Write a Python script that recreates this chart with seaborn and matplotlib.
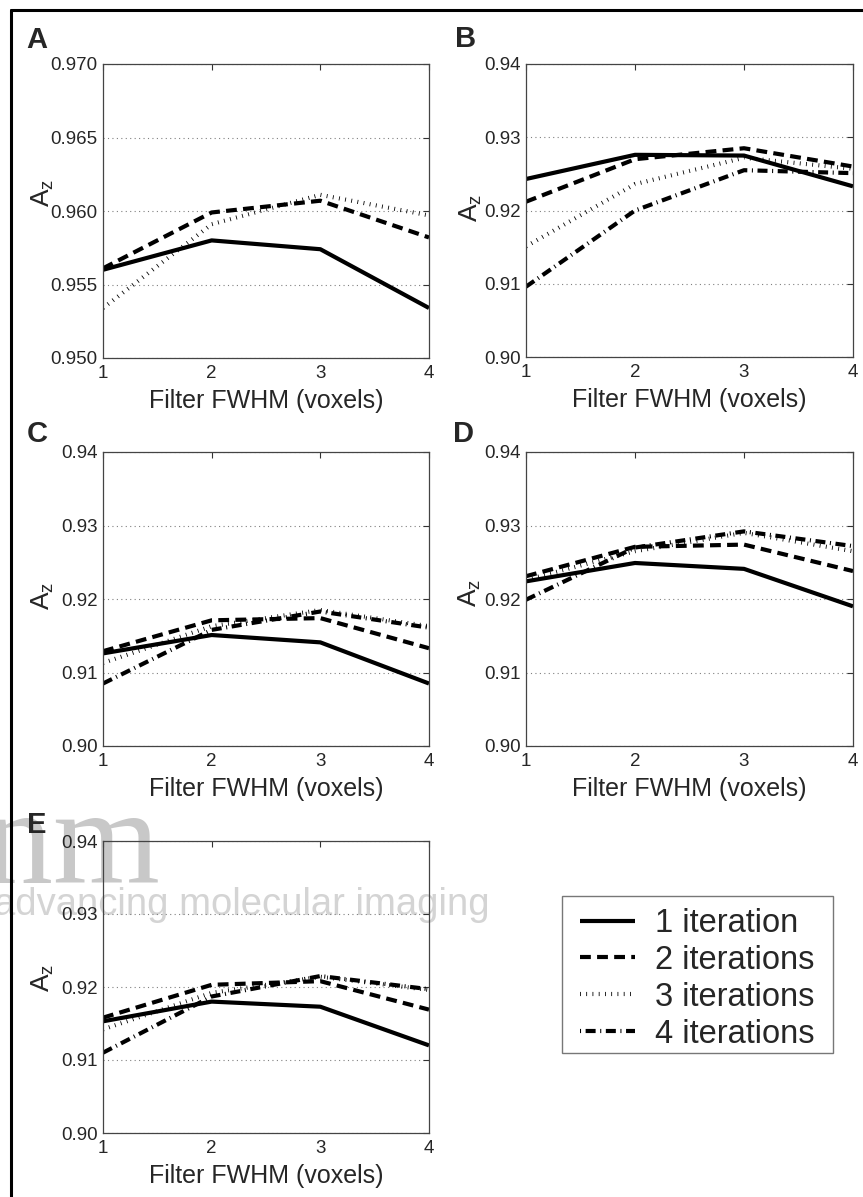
import numpy as np
import pandas as pd
import matplotlib
matplotlib.use("Agg")
import matplotlib.pyplot as plt
import seaborn as sns
from matplotlib.ticker import FormatStrFormatter, FixedLocator
from matplotlib.lines import Line2D
from matplotlib.patches import Rectangle

# ---------------- data ----------------
fwhm = [1, 2, 3, 4]
iterations = ["1 iteration", "2 iterations", "3 iterations", "4 iterations"]

A_1 = [0.9560, 0.9580, 0.9574, 0.9534]
A_2 = [0.9561, 0.9599, 0.9607, 0.9582]
A_3 = [0.9534, 0.9591, 0.9611, 0.9597]

B_1 = [0.9243, 0.9276, 0.9275, 0.9233]
B_2 = [0.9212, 0.9270, 0.9285, 0.9260]
B_3 = [0.9151, 0.9236, 0.9272, 0.9257]
B_4 = [0.9096, 0.9200, 0.9255, 0.9251]

C_1 = [0.9126, 0.9151, 0.9141, 0.9085]
C_2 = [0.9129, 0.9171, 0.9174, 0.9133]
C_3 = [0.9113, 0.9163, 0.9185, 0.9163]
C_4 = [0.9085, 0.9158, 0.9183, 0.9161]

D_1 = [0.9224, 0.9249, 0.9241, 0.9190]
D_2 = [0.9231, 0.9271, 0.9274, 0.9238]
D_3 = [0.9226, 0.9265, 0.9290, 0.9265]
D_4 = [0.9199, 0.9270, 0.9292, 0.9272]

E_1 = [0.9153, 0.9180, 0.9173, 0.9120]
E_2 = [0.9158, 0.9203, 0.9208, 0.9169]
E_3 = [0.9142, 0.9192, 0.9214, 0.9196]
E_4 = [0.9110, 0.9187, 0.9215, 0.9197]

panel_letters = ["A", "B", "C", "D", "E"]
panel_series = [
    [A_1, A_2, A_3],
    [B_1, B_2, B_3, B_4],
    [C_1, C_2, C_3, C_4],
    [D_1, D_2, D_3, D_4],
    [E_1, E_2, E_3, E_4],
]
A_yticks = [0.950, 0.955, 0.960, 0.965, 0.970]
other_yticks = [0.90, 0.91, 0.92, 0.93, 0.94]
xlabel = "Filter FWHM (voxels)"
ylabel = r"A$_{\mathrm{z}}$"
watermark_big = "jnm"
watermark_small = "advancing molecular imaging"

# ---------------- style ----------------
sns.set_style("white")
plt.rcParams["font.family"] = ["Liberation Sans", "DejaVu Sans"]
plt.rcParams["mathtext.fontset"] = "custom"
plt.rcParams["mathtext.rm"] = "Liberation Sans"
plt.rcParams["mathtext.it"] = "Liberation Sans:italic"

dash_map = {
    "1 iteration": "",
    "2 iterations": (2.6, 1.5),
    "3 iterations": (0.2, 1.3),
    "4 iterations": (2.4, 1.1, 0.25, 1.1),
}

W, H = 863, 1197
fig = plt.figure(figsize=(W / 100, H / 100), dpi=100)

# axes rectangles in pixels: (left, top, right, bottom)
rects = [
    (103, 64, 429, 358),
    (526, 64, 853, 357),
    (103, 452, 429, 746),
    (526, 452, 853, 746),
    (103, 841, 429, 1133),
]
letter_pos = [(26, 48), (455, 47), (27, 442), (453, 442), (27, 833)]
ylab_x = [-0.145, -0.128, -0.145, -0.133, -0.145]
ylab_y = [0.56, 0.51, 0.51, 0.52, 0.53]

# watermark (behind axes)
fig.text(160 / W, 1 - 883 / H, watermark_big, ha="right", va="baseline",
         fontsize=99, family="Liberation Serif", color="#c8c8c8", zorder=-2)
fig.text(-6 / W, 1 - 915 / H, watermark_small, ha="left", va="baseline",
         fontsize=27.5, family="Liberation Sans", color="#d4d4d4", zorder=-2)

legend_handles = None
for i, (series, rect) in enumerate(zip(panel_series, rects)):
    l, t, r, b = rect
    ax = fig.add_axes([l / W, 1 - b / H, (r - l) / W, (b - t) / H])
    ax.set_facecolor("none")
    rows = []
    for k, vals in enumerate(series):
        for x, v in zip(fwhm, vals):
            rows.append({"fwhm": x, "az": v, "iteration": iterations[k]})
    df = pd.DataFrame(rows)
    sns.lineplot(data=df, x="fwhm", y="az", style="iteration",
                 style_order=iterations[:len(series)],
                 dashes=dash_map, color="black", linewidth=3, ax=ax,
                 legend=True)
    for ln in ax.get_lines():
        ln.set_dash_capstyle("butt")
        ln.set_solid_capstyle("butt")
    h, lab = ax.get_legend_handles_labels()
    if len(series) == 4 and legend_handles is None:
        legend_handles = (h, lab)
    ax.get_legend().remove()

    yt = A_yticks if i == 0 else other_yticks
    ax.set_xlim(1, 4)
    ax.set_ylim(yt[0], yt[-1])
    ax.set_xticks(fwhm)
    ax.set_yticks(yt)
    ax.yaxis.set_major_formatter(FormatStrFormatter("%.3f" if i == 0 else "%.2f"))
    ax.xaxis.set_minor_locator(FixedLocator([3]))
    ax.grid(False)
    ax.yaxis.grid(True, which="major", ls=(0, (1, 3)), color="#808080", lw=0.8)
    ax.xaxis.grid(True, which="minor", ls=(0, (1, 3)), color="#808080", lw=0.8)
    ax.tick_params(axis="both", which="major", direction="in", top=True,
                   right=True, length=4, width=0.8, color="#333333",
                   labelsize=13.5, pad=4)
    ax.tick_params(axis="x", which="major", pad=5)
    ax.tick_params(axis="x", which="minor", length=0)
    for sp in ax.spines.values():
        sp.set_color("#444444")
        sp.set_linewidth(0.9)
    ax.set_xlabel(xlabel, fontsize=18, labelpad=5)
    ax.set_ylabel(ylabel, fontsize=19)
    ax.yaxis.set_label_coords(ylab_x[i], ylab_y[i])

    lx, ly = letter_pos[i]
    fig.text(lx / W, 1 - ly / H, panel_letters[i], ha="left", va="baseline",
             fontsize=21, fontweight="bold")

# legend (frameless, with a separate box drawn around it)
h, lab = legend_handles
leg = fig.legend(h, lab, loc="upper left", bbox_to_anchor=(580 / W, 1 - 908 / H),
                 borderaxespad=0, fontsize=23.5, handlelength=1.68,
                 handletextpad=0.62, labelspacing=0.18, borderpad=0.0,
                 frameon=False)
for k, ln in enumerate(leg.get_lines()):
    ln.set_linewidth(3)
    ln.set_dash_capstyle("butt")
    if k == 3:
        ln.set_linestyle((3.5, (2.4, 1.1, 0.25, 1.1)))
fig.add_artist(Rectangle((562 / W, 1 - 1053 / H), 271 / W, 157 / H,
                         transform=fig.transFigure, fill=False,
                         edgecolor="#777777", lw=1.0))

# outer frame (top and left edges)
fig.add_artist(Line2D([10.5 / W, 1], [1 - 9.5 / H, 1 - 9.5 / H],
                      transform=fig.transFigure, color="black", lw=2.2))
fig.add_artist(Line2D([10.5 / W, 10.5 / W], [0, 1 - 9.5 / H],
                      transform=fig.transFigure, color="black", lw=2.2))

fig.savefig("out.png", dpi=100, facecolor="white")
